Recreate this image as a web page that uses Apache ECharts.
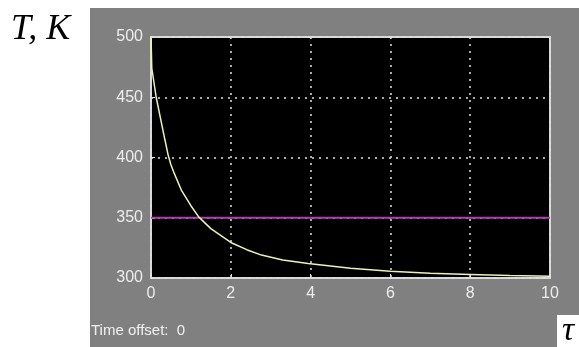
<!DOCTYPE html>
<html>
<head>
<meta charset="utf-8">
<script src="https://cdn.jsdelivr.net/npm/echarts@6/dist/echarts.min.js"></script>
<style>html,body{margin:0;padding:0;background:#fff;}#c{width:579px;height:347px;}</style>
</head>
<body>
<div id="c"></div>
<script>
// Time values (x) and temperature T (K)
var timeValues = [0, 0.02, 0.13, 0.26, 0.35, 0.43, 0.5, 0.58, 0.76, 1.0, 1.2, 1.5, 2.0, 2.4, 2.77, 3.3, 3.94, 5.0, 6.0, 7.0, 8.0, 9.0, 10.0];
var tempValues = [500, 474, 450, 429, 414.5, 402, 394, 387, 373, 360, 350.5, 341, 329.5, 323.5, 319, 315, 312, 308, 305.5, 304, 303, 302, 301.5];
// Reference (magenta) line
var refTime = [0, 10];
var refTemp = [350, 350];
// Axis ticks
var xTicks = [0, 2, 4, 6, 8, 10];
var yTicks = [300, 350, 400, 450, 500];

var chart = echarts.init(document.getElementById('c'));
var curve = timeValues.map(function (t, i) { return [t, tempValues[i]]; });
var ref = refTime.map(function (t, i) { return [t, refTemp[i]]; });

chart.setOption({
  animation: false,
  backgroundColor: '#ffffff',
  graphic: [
    { type: 'rect', z: -10, shape: { x: 90, y: 8, width: 489, height: 339 }, style: { fill: '#808080' } },
    { type: 'rect', z: -5, shape: { x: 557, y: 315, width: 22, height: 32 }, style: { fill: '#ffffff' } },
    { type: 'text', left: 11, top: 12, style: { text: 'T, K', font: 'italic 36px "Liberation Serif", "Times New Roman", serif', fill: '#000' } },
    { type: 'text', left: 562, top: 314, style: { text: 'τ', font: 'italic 34px "Liberation Serif", "Times New Roman", serif', fill: '#000' } },
    { type: 'text', left: 91, top: 323, style: { text: 'Time offset:  0', font: '15px "Liberation Sans", Arial, sans-serif', fill: '#f0f0f0' } }
  ],
  grid: {
    left: 151, top: 37, width: 399, height: 241,
    show: true, backgroundColor: '#000000', borderColor: '#d8d8d8', borderWidth: 2, z: 0
  },
  xAxis: {
    type: 'value', min: xTicks[0], max: xTicks[xTicks.length - 1], interval: 2,
    axisLine: { show: false },
    axisTick: { show: true, inside: true, length: 4, lineStyle: { color: '#e0e0e0' } },
    axisLabel: { color: '#ececec', fontSize: 16, fontFamily: '"Liberation Sans", Arial, sans-serif', margin: 8 },
    splitLine: { show: true, lineStyle: { color: '#e0e0e0', type: [2, 5], width: 1.5 } }
  },
  yAxis: {
    type: 'value', min: yTicks[0], max: yTicks[yTicks.length - 1], interval: 50,
    axisLine: { show: false },
    axisTick: { show: true, inside: true, length: 4, lineStyle: { color: '#e0e0e0' } },
    axisLabel: { color: '#ececec', fontSize: 16, fontFamily: '"Liberation Sans", Arial, sans-serif', margin: 8 },
    splitLine: { show: true, lineStyle: { color: '#e0e0e0', type: [2, 5], width: 1.5 } }
  },
  series: [
    { type: 'line', data: ref, showSymbol: false, lineStyle: { color: '#b83cb8', width: 2 }, z: 3 },
    { type: 'line', data: curve, showSymbol: false, smooth: false, lineStyle: { color: '#eef2b0', width: 1.5 }, z: 4 }
  ]
});
</script>
</body>
</html>
